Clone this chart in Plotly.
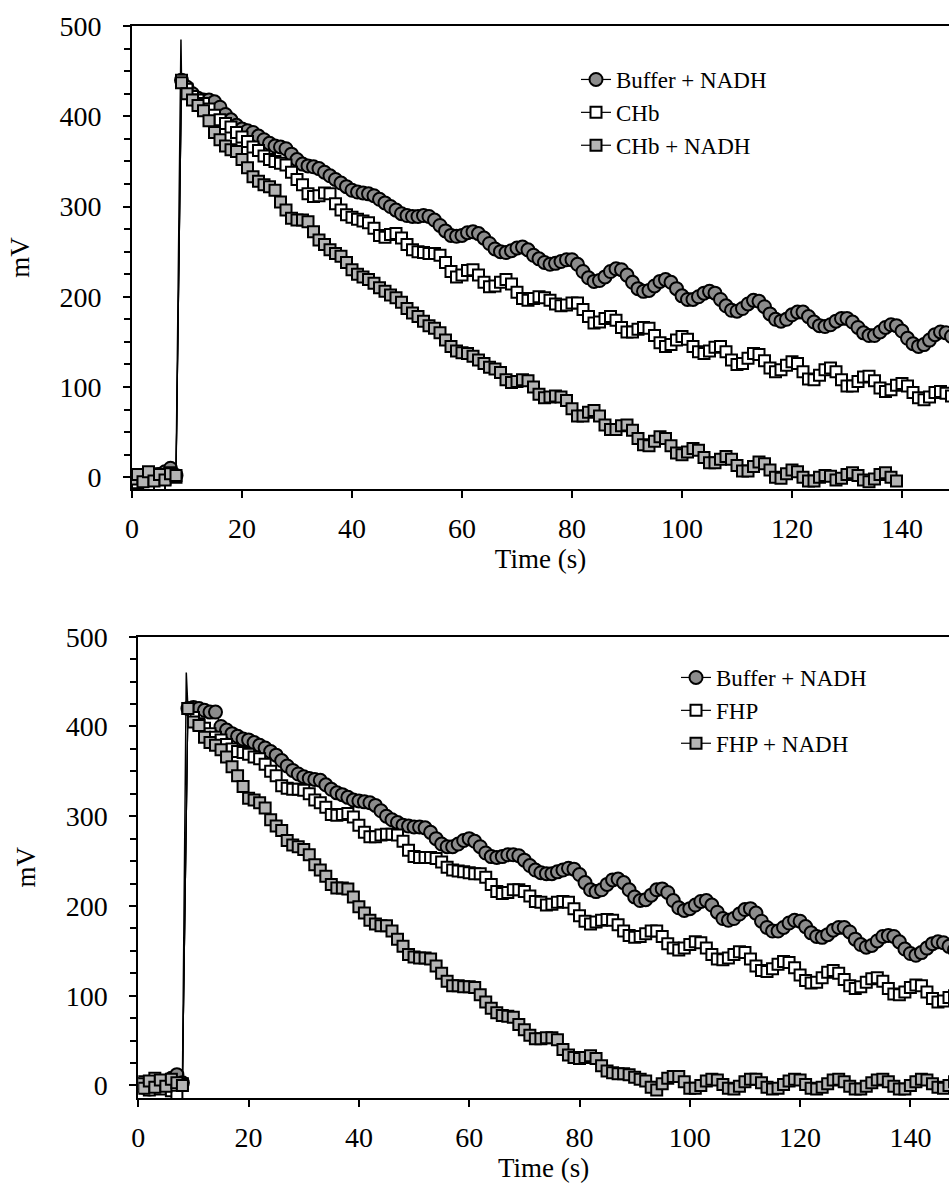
import plotly.graph_objects as go

# ---------------- data (time in s, signal in mV) ----------------
buffer_top = [
    -2, 0, -4, -1, 2, 3, 6, 10, 2, 440,
    432, 425, 420, 418, 418, 416, 410, 402, 396, 390,
    386, 384, 382, 378, 374, 370, 367, 366, 364, 358,
    352, 347, 345, 344, 342, 338, 334, 330, 326, 322,
    318, 316, 315, 314, 312, 308, 304, 300, 296, 292,
    290, 289, 289, 290, 289, 285, 279, 273, 268, 267,
    268, 271, 272, 270, 265, 259, 253, 250, 249, 251,
    254, 255, 252, 246, 242, 238, 236, 237, 239, 241,
    241, 236, 228, 221, 217, 218, 222, 228, 231, 230,
    224, 216, 209, 206, 207, 212, 217, 219, 216, 209,
    201, 197, 197, 200, 204, 206, 204, 197, 190, 185,
    184, 187, 192, 196, 195, 189, 181, 175, 173, 175,
    180, 183, 183, 178, 172, 168, 167, 169, 173, 176,
    176, 172, 166, 160, 157, 157, 161, 166, 169, 168,
    162, 154, 148, 145, 147, 152, 158, 161, 160, 156,
    152]
chb_top = [
    -3, -6, 2, -3, 4, -8, -2, 5, 0, 440,
    430, 422, 418, 414, 408, 401, 396, 392, 388, 382,
    377, 372, 366, 362, 356, 352, 350, 348, 346, 338,
    330, 324, 314, 311, 312, 315, 314, 303, 296, 291,
    288, 286, 284, 282, 276, 268, 266, 269, 270, 265,
    258, 252, 250, 249, 248, 248, 246, 238, 228, 222,
    224, 229, 230, 224, 216, 211, 212, 216, 219, 214,
    205, 198, 196, 198, 200, 199, 196, 192, 190, 191,
    193, 193, 186, 178, 171, 172, 176, 178, 174, 166,
    161, 161, 164, 166, 165, 157, 149, 145, 147, 152,
    156, 153, 145, 139, 137, 140, 144, 145, 139, 130,
    125, 126, 132, 137, 136, 129, 121, 117, 119, 124,
    128, 126, 117, 109, 108, 113, 119, 121, 117, 108,
    101, 101, 106, 111, 112, 107, 99, 95, 97, 102,
    104, 101, 94, 88, 86, 89, 94, 95, 93, 90,
    88]
chb_nadh_top = [
    -2, 3, -5, 6, -4, 3, -3, 4, 2, 437,
    425, 418, 412, 406, 395, 382, 374, 367, 363, 361,
    352, 343, 333, 328, 324, 322, 318, 305, 296, 287,
    285, 285, 283, 272, 263, 258, 252, 248, 245, 238,
    230, 225, 222, 219, 215, 210, 206, 202, 199, 194,
    187, 182, 178, 173, 168, 165, 160, 152, 145, 140,
    138, 137, 134, 130, 126, 122, 120, 116, 108, 105,
    106, 108, 107, 100, 92, 88, 89, 90, 89, 85,
    76, 68, 68, 72, 74, 68, 58, 53, 53, 57,
    58, 52, 43, 36, 35, 40, 45, 43, 35, 27,
    25, 28, 32, 30, 22, 16, 16, 20, 23, 20,
    13, 7, 7, 12, 17, 15, 8, 0, -1, 4,
    8, 6, 0, -4, -4, 0, 2, 1, -3, -1,
    3, 5, 2, -3, -5, -2, 3, 5, 0, -4]

buffer_bot = [
    1, -2, -4, 2, 0, 3, 8, 12, 3, 420,
    421, 420, 418, 416, 416, 400, 396, 392, 389, 386,
    385, 382, 379, 376, 372, 368, 362, 356, 351, 347,
    344, 342, 341, 340, 335, 330, 326, 324, 321, 318,
    317, 316, 315, 312, 306, 300, 296, 293, 290, 289,
    288, 288, 287, 282, 275, 269, 266, 266, 269, 273,
    275, 272, 266, 259, 255, 254, 255, 257, 257, 256,
    251, 245, 240, 237, 236, 236, 238, 240, 242, 241,
    235, 226, 218, 216, 218, 224, 229, 230, 226, 218,
    210, 206, 207, 212, 218, 219, 215, 206, 198, 195,
    197, 201, 205, 206, 201, 193, 186, 184, 186, 191,
    196, 197, 192, 183, 176, 172, 172, 176, 181, 184,
    183, 177, 170, 166, 165, 168, 173, 176, 176, 171,
    163, 157, 154, 156, 161, 166, 167, 166, 160, 152,
    147, 145, 148, 153, 158, 160, 159, 155, 151, 150,
    152]
fhp_bot = [
    -1, 4, -5, 8, -4, 3, -6, -12, 2, 420,
    410, 403, 398, 392, 388, 385, 380, 375, 372, 371,
    369, 366, 364, 358, 350, 345, 334, 331, 330, 330,
    329, 325, 318, 315, 310, 302, 301, 302, 303, 299,
    290, 282, 277, 277, 279, 280, 280, 279, 272, 262,
    255, 254, 254, 254, 253, 249, 243, 240, 239, 238,
    237, 236, 236, 232, 224, 216, 214, 215, 218, 218,
    216, 211, 205, 204, 201, 202, 204, 205, 204, 197,
    189, 183, 180, 182, 184, 185, 184, 179, 172, 167,
    165, 166, 169, 172, 172, 166, 158, 153, 151, 153,
    157, 160, 159, 153, 146, 141, 140, 142, 146, 149,
    148, 141, 133, 128, 127, 130, 135, 138, 137, 131,
    123, 117, 114, 115, 120, 126, 128, 125, 118, 111,
    108, 110, 115, 119, 120, 116, 108, 102, 101, 104,
    109, 112, 111, 104, 97, 93, 94, 98, 100, 97,
    94]
fhp_nadh_bot = [
    2, -3, 5, -2, 6, -1, 7, 3, 0, 420,
    405, 401, 388, 382, 379, 374, 366, 355, 345, 333,
    320, 318, 315, 309, 296, 289, 284, 273, 268, 266,
    263, 257, 246, 240, 233, 224, 220, 220, 219, 210,
    199, 192, 184, 180, 178, 178, 172, 163, 155, 146,
    143, 142, 142, 141, 133, 125, 116, 111, 111, 110,
    110, 109, 101, 93, 86, 81, 78, 77, 76, 68,
    62, 56, 52, 52, 53, 53, 51, 40, 34, 31,
    30, 31, 33, 30, 22, 16, 14, 13, 13, 12,
    9, 7, 5, -2, -5, 2, 8, 10, 10, 4,
    -3, -3, 0, 5, 7, 6, 1, -3, -4, -1,
    4, 7, 7, 3, -2, -4, -3, 1, 5, 7,
    6, 1, -3, -4, -2, 2, 6, 7, 4, -1,
    -4, -4, -1, 3, 6, 7, 4, -1, -4, -4,
    0, 4, 7, 6, 2, -2, -3, 0, 4, 5,
    2]

# injection spike (time, peak mV)
spike_top = (8.9, 485)
spike_bot = (8.7, 460)

names_top = ["Buffer + NADH", "CHb", "CHb + NADH"]
names_bot = ["Buffer + NADH", "FHP", "FHP + NADH"]

# ---------------- styles ----------------
FONT = "Liberation Serif"
styles = [
    dict(symbol="circle", size=13, color="#8c8c8c"),
    dict(symbol="square", size=11, color="white"),
    dict(symbol="square", size=11, color="#b4b4b4"),
]

fig = go.Figure()


def add_panel(series, names, spike, xa, ya, legend):
    first = series[0]
    # spike line (no markers)
    fig.add_trace(go.Scatter(
        x=[8, spike[0], 9], y=[first[8], spike[1], first[9]],
        mode="lines", line=dict(color="black", width=1.5),
        showlegend=False, hoverinfo="skip", xaxis=xa, yaxis=ya))
    for vals, name, st in zip(series, names, styles):
        fig.add_trace(go.Scatter(
            x=list(range(len(vals))), y=vals, name=name,
            mode="lines+markers",
            line=dict(color="black", width=1.2),
            marker=dict(symbol=st["symbol"], size=st["size"], color=st["color"],
                        line=dict(color="black", width=2)),
            xaxis=xa, yaxis=ya, legend=legend))


add_panel([buffer_top, chb_top, chb_nadh_top], names_top, spike_top, "x", "y", "legend")
add_panel([buffer_bot, fhp_bot, fhp_nadh_bot], names_bot, spike_bot, "x2", "y2", "legend2")

ML, MT, MB, W, H = 132, 26, 103, 949, 1201
PW, PH = W - ML, H - MT - MB


def px_x(p):
    return (p - ML) / PW


def px_y(p):
    return (H - MB - p) / PH


tickfont = dict(family=FONT, size=28, color="black")
titlefont = dict(family=FONT, size=27, color="black")

xcommon = dict(showgrid=False, zeroline=False, showline=True, linecolor="black",
               linewidth=2, mirror=True, ticks="outside", ticklen=7, tickwidth=2,
               tickcolor="black", tickfont=tickfont, dtick=20, tick0=0,
               ticklabelstandoff=6, automargin=False,
               title=dict(text="Time (s)", font=titlefont, standoff=0))
ycommon = dict(showgrid=False, zeroline=False, showline=True, linecolor="black",
               linewidth=2, mirror=False, ticks="outside", ticklen=7, tickwidth=2,
               tickcolor="black", tickfont=tickfont, dtick=100, tick0=0,
               ticklabelstandoff=16, automargin=False,
               minor=dict(ticks="outside", ticklen=6, tickwidth=2, dtick=25,
                          tickcolor="black", showgrid=False),
               title=dict(text="mV", font=titlefont, standoff=22))

fig.update_layout(
    width=W, height=H,
    margin=dict(l=ML, r=0, t=MT, b=MB, pad=0),
    paper_bgcolor="white", plot_bgcolor="white",
    font=dict(family=FONT, color="black"),
    xaxis=dict(xcommon, domain=[0, 1], range=[0, PW / 5.5], anchor="y"),
    yaxis=dict(ycommon, domain=[px_y(489), 1], range=[-13, 500], anchor="x"),
    xaxis2=dict(xcommon, domain=[px_x(138.3), 1], range=[0, (W - 138.3) / 5.515], anchor="y2"),
    yaxis2=dict(ycommon, domain=[0, px_y(636.7)], range=[-14, 500], anchor="x2"),
    legend=dict(x=px_x(576), y=px_y(58), xanchor="left", yanchor="top",
                font=dict(family=FONT, size=23, color="black"),
                bgcolor="rgba(0,0,0,0)", itemwidth=30, tracegroupgap=0),
    legend2=dict(x=px_x(676), y=px_y(656), xanchor="left", yanchor="top",
                 font=dict(family=FONT, size=23, color="black"),
                 bgcolor="rgba(0,0,0,0)", itemwidth=30, tracegroupgap=0),
)

fig.write_html("out.html")
